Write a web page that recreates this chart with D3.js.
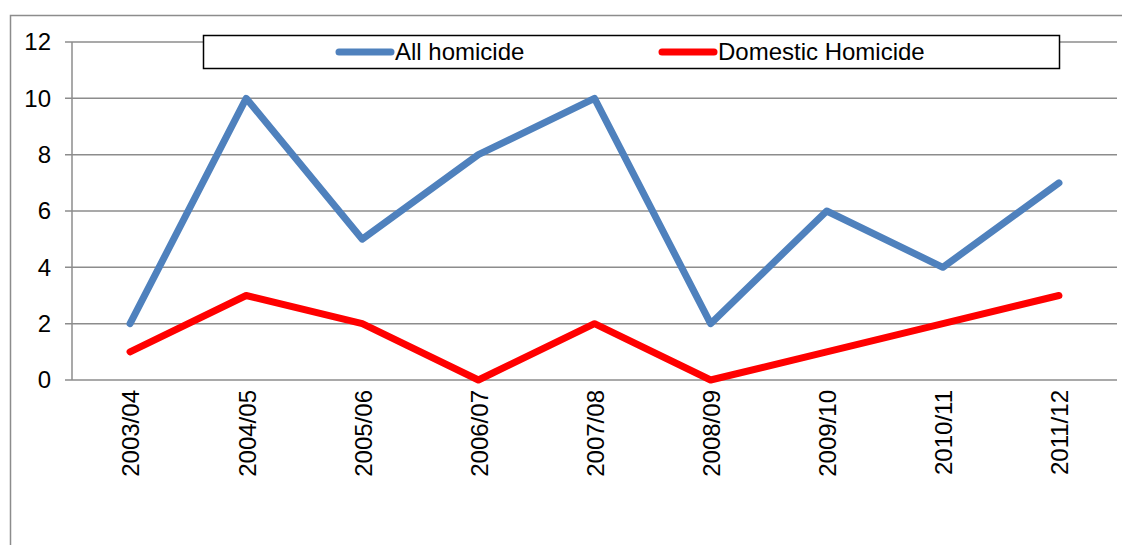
<!DOCTYPE html>
<html><head><meta charset="utf-8">
<script src="https://d3js.org/d3.v7.min.js"></script>
<style>body{margin:0;background:#fff}svg{display:block}text{font-family:"Liberation Sans",Arial,sans-serif;fill:#000}</style>
</head><body><svg id="c" width="1122" height="545"></svg>
<script>
const categories = ["2003/04","2004/05","2005/06","2006/07","2007/08","2008/09","2009/10","2010/11","2011/12"];
const allHomicide = [2,10,5,8,10,2,6,4,7];
const domesticHomicide = [1,3,2,0,2,0,1,2,3];
const yTicks = [0,2,4,6,8,10,12];
const seriesNames = ["All homicide","Domestic Homicide"];
const seriesColors = ["#4f81bd","#ff0000"];

const svg = d3.select("#c");
const L = 72, R = 1117, T = 42, B = 380;
const x = d3.scaleBand().domain(categories).range([L, R]);
const y = d3.scaleLinear().domain([0, 12]).range([B, T]);

// outer frame
svg.append("rect").attr("x",10.5).attr("y",15.5).attr("width",1140).attr("height",600)
  .attr("fill","none").attr("stroke","#8c8c8c").attr("stroke-width",1.5);

// grid
svg.append("g").selectAll("line").data(yTicks).join("line")
  .attr("x1", L - 7).attr("x2", R).attr("y1", d => y(d)).attr("y2", d => y(d))
  .attr("stroke","#8c8c8c").attr("stroke-width",1.5);
svg.append("line").attr("x1",L).attr("x2",L).attr("y1",T).attr("y2",B)
  .attr("stroke","#8c8c8c").attr("stroke-width",1.5);

// y labels
svg.append("g").selectAll("text").data(yTicks).join("text")
  .attr("x", 51).attr("y", d => y(d)).attr("dy","0.35em").attr("text-anchor","end")
  .attr("font-size",24).text(d => d);

// x labels
svg.append("g").selectAll("text").data(categories).join("text")
  .attr("transform", d => `translate(${x(d)+x.bandwidth()/2+1},${B+10}) rotate(-90)`)
  .attr("text-anchor","end").attr("dy","0.35em").attr("font-size",24).text(d => d);

// lines
const line = d3.line().x((d,i) => x(categories[i]) + x.bandwidth()/2).y(d => y(d));
[allHomicide, domesticHomicide].forEach((s, k) => {
  svg.append("path").datum(s).attr("d", line).attr("fill","none")
    .attr("stroke", seriesColors[k]).attr("stroke-width",7)
    .attr("stroke-linejoin","round").attr("stroke-linecap","round");
});

// legend
svg.append("rect").attr("x",203.5).attr("y",35.5).attr("width",856).attr("height",33)
  .attr("fill","#fff").attr("stroke","#000").attr("stroke-width",1.5);
const legX = [339, 662];
seriesNames.forEach((n, k) => {
  svg.append("line").attr("x1",legX[k]).attr("x2",legX[k]+52).attr("y1",52).attr("y2",52)
    .attr("stroke",seriesColors[k]).attr("stroke-width",7).attr("stroke-linecap","round");
  svg.append("text").attr("x",legX[k]+56).attr("y",52).attr("dy","0.35em")
    .attr("font-size",24).text(n);
});
</script></body></html>
